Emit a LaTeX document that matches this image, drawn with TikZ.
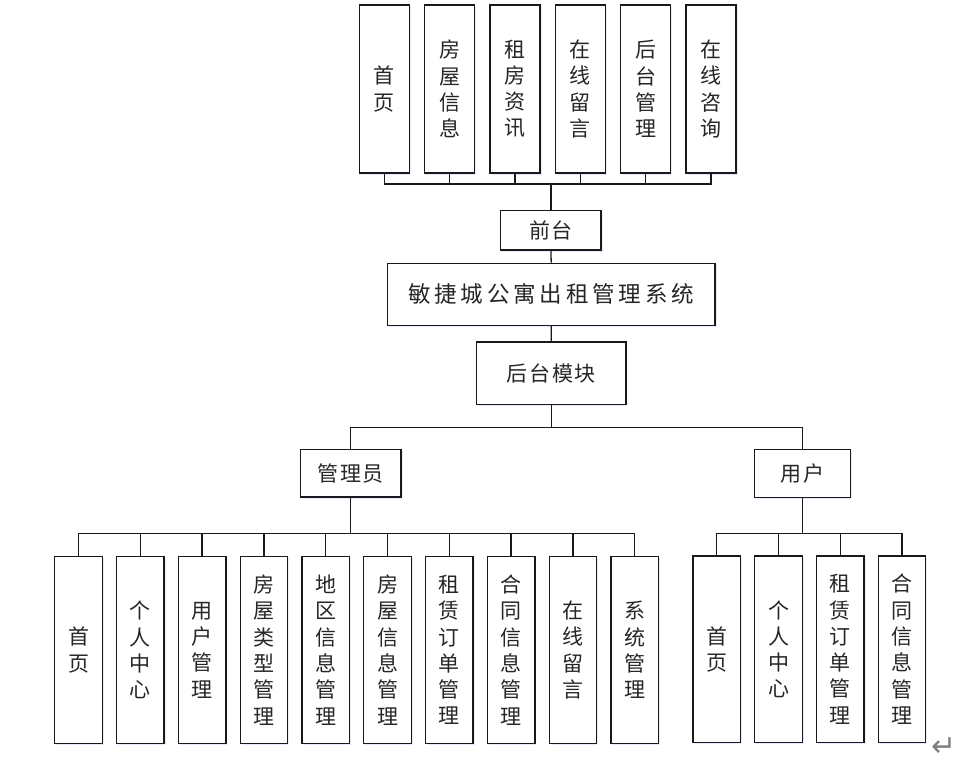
\documentclass[tikz,border=0pt]{standalone}
\usepackage{fontspec}
\newfontfamily\cjk{Noto Sans CJK SC}
\newfontfamily\cjkw[LetterSpace=8]{Noto Sans CJK SC}
\newfontfamily\djv{DejaVu Sans}
\usetikzlibrary{shadows}
\tikzset{
  box/.style={draw=black!90, line width=1.3pt, fill=white, inner sep=0pt, align=center, text=black!85,
    drop shadow={shadow xshift=1.5pt, shadow yshift=-1.5pt, fill=blue!25, opacity=0.35}},
  tallbox/.style={box, minimum width=50pt, minimum height=168pt,
    font=\cjk\fontsize{21}{26.2}\selectfont},
  lowbox/.style={box, minimum width=47.5pt, minimum height=186.6pt,
    font=\cjk\fontsize{21}{26.3}\selectfont},
  wbox/.style={box, font=\cjkw\fontsize{21}{26}\selectfont},
  conn/.style={draw=black!90, line width=1.3pt},
}
\begin{document}
\begin{tikzpicture}[x=1pt,y=-1pt]
\useasboundingbox (0,0) rectangle (965,762);
% top row
\node[tallbox] (t1) at (384.3,89) {首\\页};
\node[tallbox] (t2) at (449.7,89) {房\\屋\\信\\息};
\node[tallbox] (t3) at (515,89) {租\\房\\资\\讯};
\node[tallbox] (t4) at (580.3,89) {在\\线\\留\\言};
\node[tallbox] (t5) at (645.7,89) {后\\台\\管\\理};
\node[tallbox] (t6) at (711,89) {在\\线\\咨\\询};
\node[wbox, minimum width=100.3pt, minimum height=39.3pt] (qt) at (550.9,230.4) {前台};
\node[box, minimum width=327.7pt, minimum height=62pt, font=\cjk\fontsize{22.5}{26}\selectfont\addfontfeature{LetterSpace=17}] (main) at (551.2,294.3) {敏捷城公寓出租管理系统};
\node[wbox, minimum width=149.3pt, minimum height=62.3pt] (ht) at (551.3,373.2) {后台模块};
\node[wbox, minimum width=100.7pt, minimum height=47.3pt] (adm) at (350.7,473.4) {管理员};
\node[wbox, minimum width=95.6pt, minimum height=47.6pt] (usr) at (802.5,473.5) {用户};
% admin row
\node[lowbox] (a1) at (78.5,650) {首\\页};
\node[lowbox] (a2) at (140.3,650) {个\\人\\中\\心};
\node[lowbox] (a3) at (202.1,650) {用\\户\\管\\理};
\node[lowbox] (a4) at (263.9,650) {房\\屋\\类\\型\\管\\理};
\node[lowbox] (a5) at (325.7,650) {地\\区\\信\\息\\管\\理};
\node[lowbox] (a6) at (387.5,650) {房\\屋\\信\\息\\管\\理};
\node[lowbox] (a7) at (449.3,650) {租\\赁\\订\\单\\管\\理};
\node[lowbox] (a8) at (511.1,650) {合\\同\\信\\息\\管\\理};
\node[lowbox] (a9) at (572.9,650) {在\\线\\留\\言};
\node[lowbox] (a10) at (634.7,650) {系\\统\\管\\理};
% user row
\node[lowbox] (u1) at (716.7,649.3) {首\\页};
\node[lowbox] (u2) at (778.5,649.3) {个\\人\\中\\心};
\node[lowbox] (u3) at (840.3,649.3) {租\\赁\\订\\单\\管\\理};
\node[lowbox] (u4) at (902,649.3) {合\\同\\信\\息\\管\\理};
% connectors
\coordinate (tb) at (550.9,184);
\foreach \i in {1,...,6} \draw[conn] (t\i.south) |- (tb);
\draw[conn] (tb) -- (qt.north);
\draw[conn] (qt.south) -- (main.north);
\draw[conn] (main.south) -- (ht.north);
\coordinate (sp) at (551.3,427.5);
\draw[conn] (ht.south) -- (sp);
\draw[conn] (sp) -| (adm.north);
\draw[conn] (sp) -| (usr.north);
\coordinate (ab) at (350.7,533.3);
\draw[conn] (adm.south) -- (ab);
\foreach \i in {1,...,10} \draw[conn] (ab) -| (a\i.north);
\coordinate (ub) at (802.5,533.3);
\draw[conn] (usr.south) -- (ub);
\foreach \i in {1,...,4} \draw[conn] (ub) -| (u\i.north);
\node[font=\djv\fontsize{30}{30}\selectfont, text=black!50, inner sep=0pt] (pm) at (944,747) {↵};
\end{tikzpicture}
\end{document}
